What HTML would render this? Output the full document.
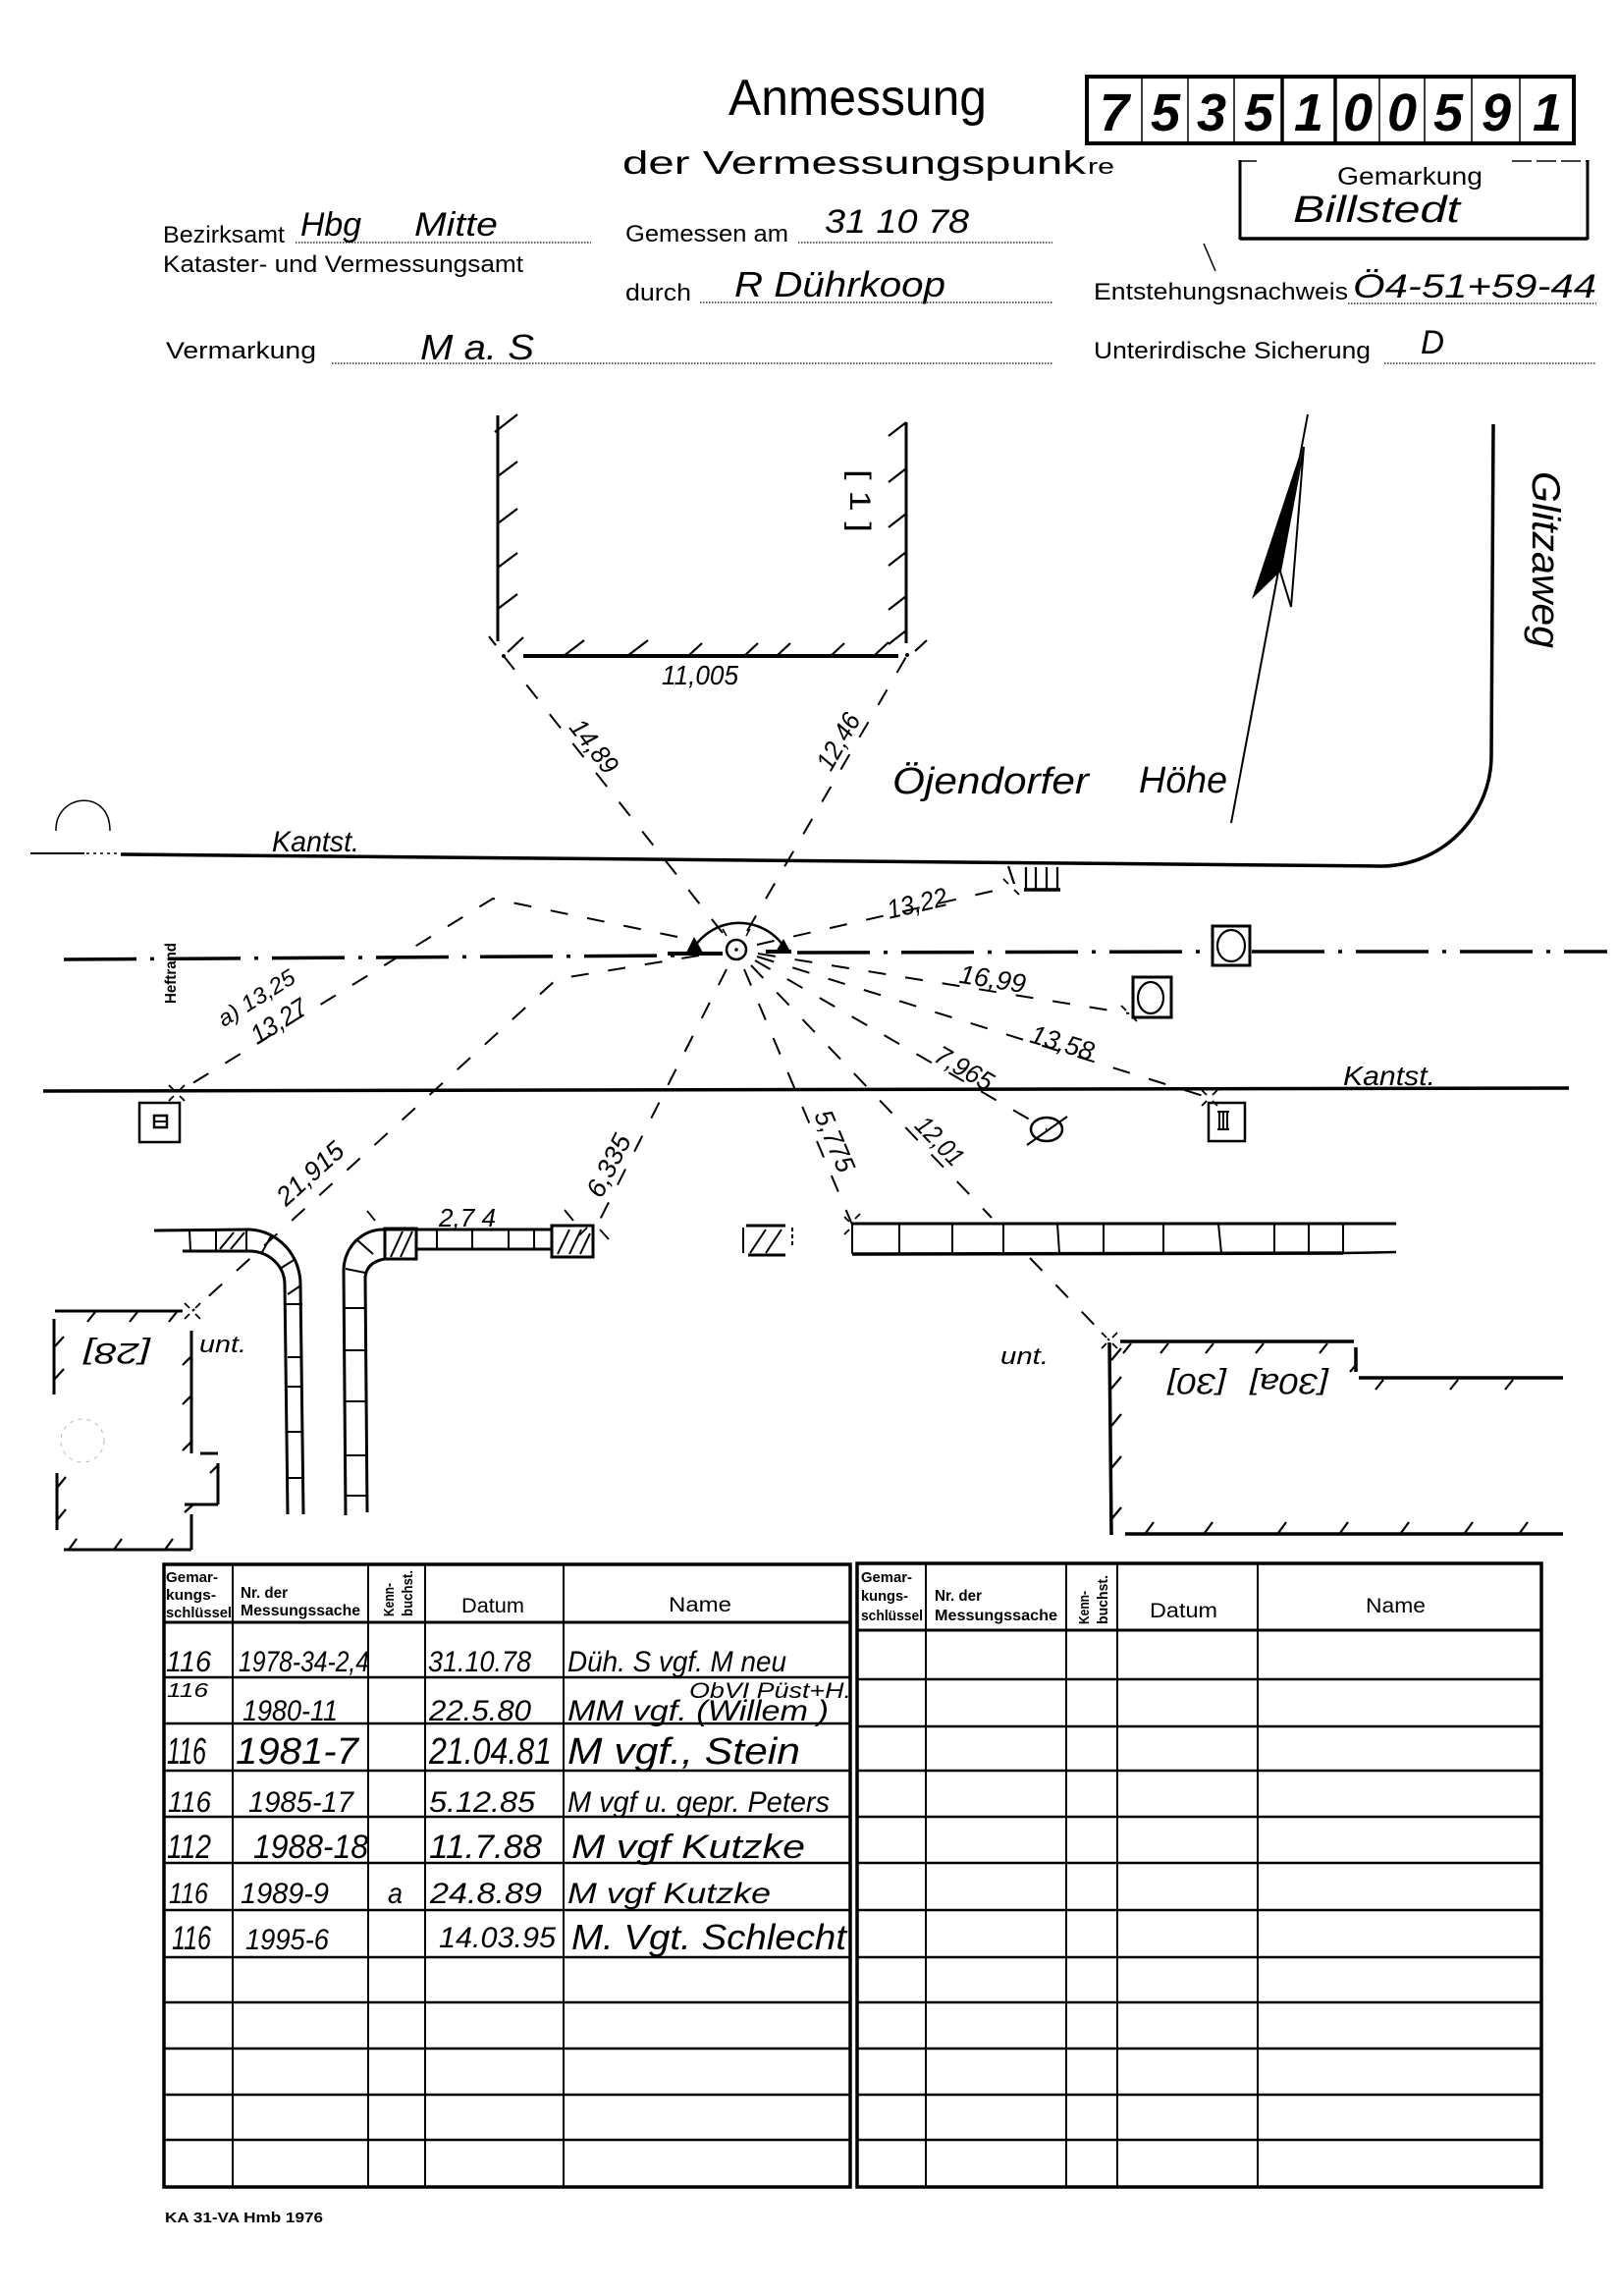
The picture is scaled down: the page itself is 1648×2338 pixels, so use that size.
<!DOCTYPE html>
<html><head><meta charset="utf-8"><style>
html,body{margin:0;padding:0;background:#fff;}
svg{display:block}
text{font-family:"Liberation Sans",sans-serif;fill:#000}
.i{font-style:italic}
.b{font-weight:bold}
.l{stroke:#000;fill:none}
.d{stroke:#000;stroke-width:2;stroke-dasharray:18 20;fill:none}
.dot{stroke:#000;stroke-width:1.3;stroke-dasharray:1.5 1.5;fill:none}
</style></head><body>
<svg width="1648" height="2338" viewBox="0 0 1648 2338" xmlns="http://www.w3.org/2000/svg">
<rect width="1648" height="2338" fill="#fff"/>

<!-- ===== HEADER ===== -->
<text x="742" y="117" font-size="52" textLength="263" lengthAdjust="spacingAndGlyphs">Anmessung</text>
<rect x="1107" y="78" width="496" height="68" class="l" stroke-width="4"/>
<g class="l" stroke-width="1.5">
<line x1="1163" y1="78" x2="1163" y2="146"/><line x1="1210" y1="78" x2="1210" y2="146"/>
<line x1="1257" y1="78" x2="1257" y2="146"/><line x1="1405" y1="78" x2="1405" y2="146"/>
<line x1="1451" y1="78" x2="1451" y2="146"/><line x1="1499" y1="78" x2="1499" y2="146"/>
<line x1="1548" y1="78" x2="1548" y2="146"/>
</g>
<line x1="1306" y1="78" x2="1306" y2="146" class="l" stroke-width="3.5"/>
<line x1="1360" y1="78" x2="1360" y2="146" class="l" stroke-width="3.5"/>
<g font-size="54" class="i b" text-anchor="middle">
<text x="1135" y="133">7</text><text x="1187" y="133">5</text><text x="1234" y="133">3</text>
<text x="1282" y="133">5</text><text x="1333" y="133">1</text><text x="1383" y="133">0</text>
<text x="1428" y="133">0</text><text x="1475" y="133">5</text><text x="1524" y="133">9</text>
<text x="1576" y="133">1</text>
</g>
<text x="634" y="177" font-size="33" textLength="472" lengthAdjust="spacingAndGlyphs">der Vermessungspunk</text>
<text x="1108" y="177" font-size="22" textLength="27" lengthAdjust="spacingAndGlyphs">re</text>

<line x1="1263" y1="164" x2="1280" y2="164" class="l" stroke-width="1.5"/>
<line x1="1540" y1="164" x2="1617" y2="164" class="l" stroke-width="1.5" stroke-dasharray="20 5"/>
<line x1="1263" y1="163" x2="1263" y2="244" class="l" stroke-width="3"/>
<line x1="1617" y1="163" x2="1617" y2="244" class="l" stroke-width="3"/>
<line x1="1263" y1="243" x2="1617" y2="243" class="l" stroke-width="3.5"/>
<text x="1362" y="188" font-size="25" textLength="148" lengthAdjust="spacingAndGlyphs">Gemarkung</text>
<text x="1317" y="226" font-size="38" class="i" textLength="170" lengthAdjust="spacingAndGlyphs">Billstedt</text>

<text x="166" y="247" font-size="24" textLength="124" lengthAdjust="spacingAndGlyphs">Bezirksamt</text>
<text x="306" y="240" font-size="34" class="i" textLength="62" lengthAdjust="spacingAndGlyphs">Hbg</text>
<text x="422" y="240" font-size="34" class="i" textLength="85" lengthAdjust="spacingAndGlyphs">Mitte</text>
<line x1="301" y1="247" x2="602" y2="247" class="dot"/>
<text x="166" y="277" font-size="24" textLength="367" lengthAdjust="spacingAndGlyphs">Kataster- und Vermessungsamt</text>

<text x="637" y="246" font-size="24" textLength="166" lengthAdjust="spacingAndGlyphs">Gemessen am</text>
<line x1="813" y1="247" x2="1072" y2="247" class="dot"/>
<text x="840" y="237" font-size="34" class="i" textLength="147" lengthAdjust="spacingAndGlyphs">31  10 78</text>

<text x="637" y="306" font-size="24" textLength="67" lengthAdjust="spacingAndGlyphs">durch</text>
<line x1="713" y1="308" x2="1072" y2="308" class="dot"/>
<text x="748" y="302" font-size="36" class="i" textLength="215" lengthAdjust="spacingAndGlyphs">R  Dührkoop</text>

<text x="1114" y="305" font-size="24" textLength="259" lengthAdjust="spacingAndGlyphs">Entstehungsnachweis</text>
<line x1="1373" y1="309" x2="1626" y2="309" class="dot"/>
<text x="1378" y="303" font-size="34" class="i" textLength="248" lengthAdjust="spacingAndGlyphs">Ö4-51+59-44</text>
<line x1="1226" y1="248" x2="1238" y2="276" class="l" stroke-width="1.5"/>

<text x="169" y="365" font-size="24" textLength="153" lengthAdjust="spacingAndGlyphs">Vermarkung</text>
<line x1="338" y1="370" x2="1072" y2="370" class="dot"/>
<text x="428" y="366" font-size="36" class="i" textLength="116" lengthAdjust="spacingAndGlyphs">M a. S</text>

<text x="1114" y="365" font-size="24" textLength="282" lengthAdjust="spacingAndGlyphs">Unterirdische Sicherung</text>
<line x1="1410" y1="370" x2="1626" y2="370" class="dot"/>
<text x="1447" y="360" font-size="34" class="i" textLength="24" lengthAdjust="spacingAndGlyphs">D</text>

<!-- ===== TOP BUILDING ===== -->
<g class="l" stroke-width="3">
<line x1="507" y1="423" x2="507" y2="653"/>
<line x1="923" y1="430" x2="923" y2="655"/>
</g>
<line x1="533" y1="668" x2="915" y2="668" class="l" stroke-width="4"/>
<g class="l" stroke-width="2.2">
<line x1="504" y1="440" x2="527" y2="422"/><line x1="507" y1="485" x2="527" y2="470"/>
<line x1="507" y1="533" x2="527" y2="518"/><line x1="507" y1="578" x2="527" y2="563"/>
<line x1="507" y1="620" x2="527" y2="605"/>
<line x1="923" y1="430" x2="905" y2="444"/><line x1="923" y1="477" x2="905" y2="491"/>
<line x1="923" y1="523" x2="905" y2="537"/><line x1="923" y1="562" x2="905" y2="576"/>
<line x1="923" y1="607" x2="905" y2="621"/><line x1="923" y1="642" x2="905" y2="656"/>
<line x1="574" y1="668" x2="595" y2="652"/><line x1="639" y1="668" x2="660" y2="652"/>
<line x1="701" y1="668" x2="715" y2="655"/><line x1="758" y1="668" x2="772" y2="655"/>
<line x1="791" y1="668" x2="805" y2="655"/><line x1="846" y1="668" x2="860" y2="655"/>
<line x1="890" y1="668" x2="905" y2="654"/>
<line x1="498" y1="648" x2="505" y2="657"/><line x1="517" y1="664" x2="533" y2="649"/>
<line x1="932" y1="663" x2="944" y2="652"/>
</g>
<circle cx="513" cy="668" r="2" fill="#000"/><circle cx="924" cy="667" r="2" fill="#000"/>
<text transform="translate(876,510) rotate(90)" text-anchor="middle" y="10" font-size="30" textLength="64" lengthAdjust="spacingAndGlyphs">[ 1 ]</text>
<text x="674" y="697" font-size="28" class="i" textLength="78" lengthAdjust="spacingAndGlyphs">11,005</text>

<!-- ===== NORTH ARROW ===== -->
<line x1="1254" y1="838" x2="1332" y2="422" class="l" stroke-width="2"/>
<polygon points="1327,453 1275,610 1304,582" fill="#000"/>
<polygon points="1328,455 1315,618 1304,582" fill="#fff" stroke="#000" stroke-width="2"/>

<!-- ===== ROADS ===== -->
<line x1="31" y1="869" x2="86" y2="869" class="l" stroke-width="2"/>
<line x1="88" y1="869" x2="121" y2="869" class="l" stroke-width="1.5" stroke-dasharray="3 4"/>
<path d="M123,870 L1405,882 A113 113 0 0 0 1519 770 L1521 432" class="l" stroke-width="3.5"/>
<text x="277" y="867" font-size="30" class="i" textLength="89" lengthAdjust="spacingAndGlyphs">Kantst.</text>
<path d="M57,846 C56,808 112,802 112,846" class="l" stroke-width="1.5"/>
<text x="909" y="808" font-size="38" class="i" textLength="200" lengthAdjust="spacingAndGlyphs">Öjendorfer</text>
<text x="1160" y="807" font-size="38" class="i" textLength="90" lengthAdjust="spacingAndGlyphs">Höhe</text>
<text transform="translate(1575,570) rotate(90)" text-anchor="middle" y="14" font-size="40" class="i" textLength="180" lengthAdjust="spacingAndGlyphs">Glitzaweg</text>

<line x1="44" y1="1111" x2="1598" y2="1108" class="l" stroke-width="3.5"/>
<text x="1368" y="1105" font-size="28" class="i" textLength="94" lengthAdjust="spacingAndGlyphs">Kantst.</text>

<!-- axis dash-dot -->
<g class="l" stroke-width="3.5" stroke-dasharray="74 14 4 14">
<line x1="65" y1="977" x2="690" y2="973"/>
<line x1="812" y1="970" x2="1233" y2="969"/>
<line x1="1275" y1="969" x2="1637" y2="969"/>
</g>
<text transform="translate(173,991) rotate(-90)" text-anchor="middle" y="6" font-size="16" class="b" textLength="62" lengthAdjust="spacingAndGlyphs">Heftrand</text>

<!-- gate symbol -->
<g class="l" stroke-width="2.2">
<line x1="1027" y1="882" x2="1033" y2="900"/>
<line x1="1045" y1="883" x2="1045" y2="906"/><line x1="1055" y1="883" x2="1055" y2="906"/>
<line x1="1066" y1="883" x2="1066" y2="906"/><line x1="1077" y1="883" x2="1077" y2="906"/>
</g>
<line x1="1043" y1="906" x2="1080" y2="906" class="l" stroke-width="3.5"/>

<!-- center point -->
<circle cx="750" cy="967" r="10" class="l" stroke-width="2.5"/>
<circle cx="750" cy="967" r="1.8" fill="#000"/>
<path d="M703,972 A55 55 0 0 1 801 968" class="l" stroke-width="2.5"/>
<g class="l" stroke-width="1.5">
<line x1="736" y1="946" x2="740" y2="953"/><line x1="764" y1="946" x2="760" y2="953"/>
</g>
<line x1="680" y1="971" x2="736" y2="971" class="l" stroke-width="4"/>
<polygon points="699,970 707,954 716,970" fill="#000"/>
<line x1="780" y1="969" x2="806" y2="969" class="l" stroke-width="4"/>
<polygon points="790,969 798,956 805,969" fill="#000"/>

<!-- boxed circles -->
<rect x="1235" y="943" width="38" height="40" class="l" stroke-width="3"/>
<ellipse cx="1254" cy="963" rx="14" ry="16" class="l" stroke-width="2.2"/>
<rect x="1154" y="995" width="39" height="41" class="l" stroke-width="3"/>
<ellipse cx="1172" cy="1016" rx="13" ry="16" class="l" stroke-width="2.2"/>

<!-- small boxes on lower Kantst -->
<rect x="142" y="1123" width="41" height="40" class="l" stroke-width="2.5"/>
<rect x="157" y="1136" width="13" height="12" class="l" stroke-width="2.5"/>
<line x1="157" y1="1142" x2="170" y2="1142" class="l" stroke-width="2"/>
<rect x="1231" y="1123" width="37" height="39" class="l" stroke-width="2.5"/>
<g class="l" stroke-width="2"><line x1="1240" y1="1132" x2="1252" y2="1132"/><line x1="1242" y1="1132" x2="1242" y2="1150"/><line x1="1246" y1="1132" x2="1246" y2="1150"/><line x1="1250" y1="1132" x2="1250" y2="1150"/><line x1="1240" y1="1150" x2="1252" y2="1150"/></g>

<!-- diameter symbol -->
<ellipse cx="1066" cy="1150" rx="16" ry="12" class="l" stroke-width="2.5"/>
<line x1="1046" y1="1166" x2="1087" y2="1137" class="l" stroke-width="2"/>

<!-- ===== DASHED MEASURE LINES ===== -->
<g class="d">
<line x1="736" y1="950" x2="513" y2="668"/>
<line x1="761" y1="948" x2="924" y2="667"/>
<polyline points="690,954 502,915 180,1113"/>
<polyline points="712,973 567,997 196,1335"/>
<line x1="740" y1="987" x2="607" y2="1250"/>
<line x1="771" y1="962" x2="1030" y2="903"/>
<line x1="772" y1="971" x2="1150" y2="1032"/>
<line x1="771" y1="974" x2="1232" y2="1118"/>
<line x1="769" y1="978" x2="1066" y2="1150"/>
<line x1="765" y1="983" x2="1010" y2="1240"/>
<line x1="1049" y1="1281" x2="1130" y2="1365"/>
<line x1="758" y1="987" x2="868" y2="1247"/>
</g>

<!-- measure labels -->
<g font-size="27" class="i" text-anchor="middle">
<text transform="translate(605,760) rotate(52)" y="9" textLength="62" lengthAdjust="spacingAndGlyphs">14,89</text>
<text transform="translate(854,755) rotate(-60)" y="9" textLength="62" lengthAdjust="spacingAndGlyphs">12,46</text>
<text transform="translate(261,1016) rotate(-32)" y="8" font-size="23" textLength="88" lengthAdjust="spacingAndGlyphs">a) 13,25</text>
<text transform="translate(284,1040) rotate(-32)" y="9" textLength="62" lengthAdjust="spacingAndGlyphs">13,27</text>
<text transform="translate(316,1195) rotate(-42)" y="9" textLength="82" lengthAdjust="spacingAndGlyphs">21,915</text>
<text transform="translate(620,1187) rotate(-63)" y="9" textLength="68" lengthAdjust="spacingAndGlyphs">6,335</text>
<text transform="translate(934,920) rotate(-13)" y="9" textLength="62" lengthAdjust="spacingAndGlyphs">13,22</text>
<text transform="translate(1011,997) rotate(9)" y="9" textLength="68" lengthAdjust="spacingAndGlyphs">16,99</text>
<text transform="translate(1082,1062) rotate(17)" y="9" textLength="66" lengthAdjust="spacingAndGlyphs">13,58</text>
<text transform="translate(982,1088) rotate(30)" y="9" textLength="64" lengthAdjust="spacingAndGlyphs">7,965</text>
<text transform="translate(957,1162) rotate(46)" y="9" textLength="58" lengthAdjust="spacingAndGlyphs">12,01</text>
<text transform="translate(850,1162) rotate(67)" y="9" textLength="66" lengthAdjust="spacingAndGlyphs">5,775</text>
</g>

<!-- X markers -->
<g class="l" stroke-width="1.8">
<path d="M172,1105 L177,1110 M183,1116 L188,1121 M188,1105 L183,1110 M177,1116 L172,1121"/>
<path d="M188,1327 L193,1332 M199,1338 L204,1343 M204,1327 L199,1332 M193,1338 L188,1343"/>
<path d="M374,1233 L382,1243 M598,1250 L590,1258 M611,1252 L620,1262 M575,1232 L584,1243"/>
<path d="M860,1239 L865,1244 M876,1236 L871,1241 M865,1252 L860,1257"/>
<path d="M1122,1357 L1127,1362 M1133,1368 L1138,1373 M1138,1357 L1133,1362 M1127,1368 L1122,1373"/>
<path d="M1224,1110 L1229,1115 M1235,1121 L1240,1126 M1240,1110 L1235,1115 M1229,1121 L1224,1126"/>
<path d="M1022,895 L1027,900 M1033,906 L1038,911"/>
<path d="M1142,1024 L1147,1029 M1153,1035 L1158,1040"/>
</g>

<!-- ===== FENCE (right) ===== -->
<line x1="868" y1="1246" x2="1422" y2="1246" class="l" stroke-width="3"/>
<line x1="868" y1="1277" x2="1368" y2="1276" class="l" stroke-width="3.5"/>
<line x1="1368" y1="1276" x2="1422" y2="1275" class="l" stroke-width="2.5"/>
<g class="l" stroke-width="2">
<line x1="868" y1="1246" x2="868" y2="1277"/><line x1="916" y1="1246" x2="916" y2="1277"/>
<line x1="970" y1="1246" x2="970" y2="1277"/><line x1="1022" y1="1246" x2="1022" y2="1277"/>
<line x1="1077" y1="1246" x2="1079" y2="1276"/><line x1="1124" y1="1246" x2="1124" y2="1276"/>
<line x1="1185" y1="1246" x2="1185" y2="1276"/><line x1="1241" y1="1246" x2="1244" y2="1276"/>
<line x1="1298" y1="1246" x2="1298" y2="1276"/><line x1="1333" y1="1246" x2="1333" y2="1276"/>
<line x1="1368" y1="1246" x2="1368" y2="1276"/>
</g>
<!-- hatched small box -->
<g class="l" stroke-width="3"><line x1="760" y1="1248" x2="800" y2="1248"/><line x1="762" y1="1278" x2="800" y2="1278"/></g>
<g class="l" stroke-width="2"><line x1="757" y1="1250" x2="757" y2="1276"/><line x1="764" y1="1276" x2="780" y2="1252"/><line x1="780" y1="1276" x2="796" y2="1252"/><line x1="807" y1="1250" x2="807" y2="1270" stroke-dasharray="4 3"/></g>

<!-- ===== LEFT CURB ===== -->
<g class="l" stroke-width="3">
<line x1="157" y1="1253" x2="254" y2="1252"/>
<line x1="186" y1="1274" x2="254" y2="1274"/>
<path d="M254,1252 A54 56 0 0 1 306 1308 L309 1542"/>
<path d="M254,1274 A36 34 0 0 1 290 1308 L293 1542"/>
</g>
<g class="l" stroke-width="2">
<line x1="193" y1="1253" x2="194" y2="1274"/><line x1="220" y1="1253" x2="220" y2="1274"/>
<line x1="251" y1="1252" x2="251" y2="1274"/>
<line x1="224" y1="1272" x2="238" y2="1255"/><line x1="235" y1="1272" x2="249" y2="1255"/>
<line x1="267" y1="1275" x2="277" y2="1257"/><line x1="285" y1="1292" x2="301" y2="1282"/>
<line x1="291" y1="1328" x2="308" y2="1328"/><line x1="293" y1="1318" x2="305" y2="1310"/>
<line x1="293" y1="1382" x2="308" y2="1382"/><line x1="293" y1="1412" x2="308" y2="1412"/>
<line x1="293" y1="1458" x2="309" y2="1458"/><line x1="293" y1="1505" x2="309" y2="1505"/>
</g>

<!-- ===== RIGHT CURB ===== -->
<g class="l" stroke-width="3">
<line x1="390" y1="1252" x2="562" y2="1252"/>
<line x1="424" y1="1272" x2="562" y2="1272"/>
<path d="M390,1252 A40 42 0 0 0 350 1294 L352 1543"/>
<path d="M392,1282 Q374,1285 372,1300 L374 1540"/>
<rect x="392" y="1251" width="32" height="31"/>
<rect x="562" y="1248" width="42" height="32"/>
</g>
<g class="l" stroke-width="2">
<line x1="445" y1="1252" x2="445" y2="1272"/><line x1="481" y1="1252" x2="481" y2="1272"/>
<line x1="518" y1="1252" x2="518" y2="1272"/><line x1="544" y1="1252" x2="544" y2="1272"/>
<line x1="398" y1="1280" x2="410" y2="1254"/><line x1="408" y1="1280" x2="420" y2="1254"/>
<line x1="568" y1="1277" x2="580" y2="1252"/><line x1="580" y1="1277" x2="592" y2="1252"/><line x1="591" y1="1277" x2="601" y2="1256"/>
<line x1="363" y1="1262" x2="380" y2="1277"/><line x1="352" y1="1292" x2="372" y2="1296"/>
<line x1="351" y1="1332" x2="373" y2="1332"/><line x1="351" y1="1375" x2="373" y2="1375"/>
<line x1="351" y1="1427" x2="373" y2="1427"/><line x1="351" y1="1482" x2="374" y2="1482"/>
<line x1="352" y1="1523" x2="374" y2="1523"/>
</g>
<text x="447" y="1249" font-size="26" class="i" textLength="58" lengthAdjust="spacingAndGlyphs">2,7 4</text>

<!-- ===== LEFT BUILDING ===== -->
<g class="l" stroke-width="3">
<line x1="56" y1="1335" x2="186" y2="1335"/>
<line x1="55" y1="1343" x2="55" y2="1420"/>
<line x1="195" y1="1355" x2="195" y2="1480"/>
<line x1="204" y1="1480" x2="222" y2="1480"/>
<line x1="222" y1="1490" x2="222" y2="1532"/>
<line x1="188" y1="1532" x2="222" y2="1532"/>
<line x1="195" y1="1542" x2="195" y2="1578"/>
<line x1="65" y1="1578" x2="195" y2="1578"/>
<line x1="58" y1="1500" x2="58" y2="1558"/>
</g>
<g class="l" stroke-width="2.2">
<line x1="97" y1="1336" x2="89" y2="1346"/><line x1="140" y1="1336" x2="132" y2="1346"/><line x1="180" y1="1336" x2="172" y2="1346"/>
<line x1="55" y1="1372" x2="65" y2="1361"/><line x1="55" y1="1405" x2="65" y2="1394"/>
<line x1="58" y1="1515" x2="67" y2="1504"/><line x1="58" y1="1548" x2="67" y2="1537"/>
<line x1="195" y1="1381" x2="186" y2="1390"/><line x1="195" y1="1421" x2="186" y2="1430"/><line x1="195" y1="1468" x2="186" y2="1477"/>
<line x1="222" y1="1492" x2="214" y2="1500"/><line x1="197" y1="1532" x2="188" y2="1540"/>
<line x1="70" y1="1578" x2="78" y2="1567"/><line x1="116" y1="1578" x2="124" y2="1567"/><line x1="168" y1="1578" x2="176" y2="1567"/>
</g>
<text transform="translate(119,1379) rotate(180)" text-anchor="middle" y="11" font-size="30" class="i" textLength="68" lengthAdjust="spacingAndGlyphs">[28]</text>
<text x="203" y="1377" font-size="24" class="i" textLength="48" lengthAdjust="spacingAndGlyphs">unt.</text>
<circle cx="84" cy="1467" r="22" fill="none" stroke="#bbb" stroke-width="1" stroke-dasharray="4 5"/>

<!-- ===== RIGHT BUILDING ===== -->
<g class="l" stroke-width="3.5">
<line x1="1141" y1="1366" x2="1379" y2="1366"/>
<line x1="1381" y1="1372" x2="1381" y2="1397"/>
<line x1="1384" y1="1403" x2="1592" y2="1403"/>
<line x1="1130" y1="1367" x2="1132" y2="1563"/>
<line x1="1146" y1="1562" x2="1592" y2="1562"/>
</g>
<g class="l" stroke-width="2.2">
<line x1="1152" y1="1368" x2="1144" y2="1378"/><line x1="1190" y1="1368" x2="1182" y2="1378"/>
<line x1="1236" y1="1368" x2="1228" y2="1378"/><line x1="1287" y1="1368" x2="1279" y2="1378"/>
<line x1="1352" y1="1368" x2="1344" y2="1378"/>
<line x1="1381" y1="1390" x2="1375" y2="1397"/>
<line x1="1409" y1="1405" x2="1401" y2="1415"/><line x1="1485" y1="1405" x2="1477" y2="1415"/><line x1="1541" y1="1405" x2="1533" y2="1415"/>
<line x1="1132" y1="1385" x2="1142" y2="1373"/><line x1="1132" y1="1414" x2="1142" y2="1402"/>
<line x1="1132" y1="1452" x2="1142" y2="1440"/><line x1="1132" y1="1495" x2="1142" y2="1483"/>
<line x1="1132" y1="1547" x2="1142" y2="1535"/>
<line x1="1167" y1="1561" x2="1175" y2="1550"/><line x1="1227" y1="1561" x2="1235" y2="1550"/>
<line x1="1302" y1="1561" x2="1310" y2="1550"/><line x1="1365" y1="1561" x2="1373" y2="1550"/>
<line x1="1427" y1="1561" x2="1435" y2="1550"/><line x1="1492" y1="1561" x2="1500" y2="1550"/>
<line x1="1548" y1="1561" x2="1556" y2="1550"/>
</g>
<text transform="translate(1219,1410) rotate(180)" text-anchor="middle" y="11" font-size="30" class="i" textLength="60" lengthAdjust="spacingAndGlyphs">[30]</text>
<text transform="translate(1313,1410) rotate(180)" text-anchor="middle" y="11" font-size="30" class="i" textLength="80" lengthAdjust="spacingAndGlyphs">[30a]</text>
<text x="1019" y="1389" font-size="24" class="i" textLength="49" lengthAdjust="spacingAndGlyphs">unt.</text>

<!-- ===== LEFT TABLE ===== -->
<rect x="167" y="1593" width="699" height="634" class="l" stroke-width="3.5"/>
<g class="l" stroke-width="2.5">
<line x1="167" y1="1652" x2="866" y2="1652" stroke-width="3"/>
<line x1="167" y1="1708" x2="866" y2="1708"/><line x1="167" y1="1755" x2="866" y2="1755"/>
<line x1="167" y1="1803" x2="866" y2="1803"/><line x1="167" y1="1850" x2="866" y2="1850"/>
<line x1="167" y1="1897" x2="866" y2="1897"/><line x1="167" y1="1945" x2="866" y2="1945"/>
<line x1="167" y1="1993" x2="866" y2="1993"/><line x1="167" y1="2039" x2="866" y2="2039"/>
<line x1="167" y1="2086" x2="866" y2="2086"/><line x1="167" y1="2133" x2="866" y2="2133"/>
<line x1="167" y1="2179" x2="866" y2="2179"/>
</g>
<g class="l" stroke-width="2">
<line x1="237" y1="1593" x2="237" y2="2227"/><line x1="375" y1="1593" x2="375" y2="2227"/>
<line x1="433" y1="1593" x2="433" y2="2227"/><line x1="574" y1="1593" x2="574" y2="2227"/>
</g>
<g class="b">
<text x="169" y="1611" font-size="15" textLength="53" lengthAdjust="spacingAndGlyphs">Gemar-</text>
<text x="169" y="1629" font-size="15" textLength="51" lengthAdjust="spacingAndGlyphs">kungs-</text>
<text x="169" y="1647" font-size="15" textLength="67" lengthAdjust="spacingAndGlyphs">schlüssel</text>
<text x="245" y="1627" font-size="16" textLength="48" lengthAdjust="spacingAndGlyphs">Nr. der</text>
<text x="245" y="1645" font-size="16" textLength="122" lengthAdjust="spacingAndGlyphs">Messungssache</text>
<text transform="translate(401,1646) rotate(-90)" font-size="15" textLength="34" lengthAdjust="spacingAndGlyphs">Kenn-</text>
<text transform="translate(420,1646) rotate(-90)" font-size="15" textLength="47" lengthAdjust="spacingAndGlyphs">buchst.</text>
</g>
<text x="470" y="1642" font-size="21" textLength="64" lengthAdjust="spacingAndGlyphs">Datum</text>
<text x="681" y="1641" font-size="21" textLength="64" lengthAdjust="spacingAndGlyphs">Name</text>

<g class="i">
<text x="169" y="1702" font-size="30" textLength="46" lengthAdjust="spacingAndGlyphs">116</text>
<text x="243" y="1702" font-size="30" textLength="133" lengthAdjust="spacingAndGlyphs">1978-34-2,4</text>
<text x="436" y="1702" font-size="30" textLength="105" lengthAdjust="spacingAndGlyphs">31.10.78</text>
<text x="578" y="1702" font-size="30" textLength="223" lengthAdjust="spacingAndGlyphs">Düh. S vgf. M neu</text>

<text x="170" y="1728" font-size="20" textLength="42" lengthAdjust="spacingAndGlyphs">116</text>
<text x="247" y="1752" font-size="30" textLength="97" lengthAdjust="spacingAndGlyphs">1980-11</text>
<text x="437" y="1752" font-size="30" textLength="104" lengthAdjust="spacingAndGlyphs">22.5.80</text>
<text x="578" y="1752" font-size="30" textLength="266" lengthAdjust="spacingAndGlyphs">MM vgf. (Willem   )</text>
<text x="702" y="1729" font-size="22" textLength="165" lengthAdjust="spacingAndGlyphs">ObVI Püst+H.</text>

<text x="170" y="1796" font-size="38" textLength="40" lengthAdjust="spacingAndGlyphs">116</text>
<text x="240" y="1796" font-size="38" textLength="125" lengthAdjust="spacingAndGlyphs">1981-7</text>
<text x="437" y="1796" font-size="38" textLength="125" lengthAdjust="spacingAndGlyphs">21.04.81</text>
<text x="578" y="1796" font-size="38" textLength="237" lengthAdjust="spacingAndGlyphs">M vgf., Stein</text>

<text x="171" y="1845" font-size="30" textLength="44" lengthAdjust="spacingAndGlyphs">116</text>
<text x="253" y="1845" font-size="30" textLength="107" lengthAdjust="spacingAndGlyphs">1985-17</text>
<text x="437" y="1845" font-size="30" textLength="108" lengthAdjust="spacingAndGlyphs">5.12.85</text>
<text x="578" y="1845" font-size="30" textLength="267" lengthAdjust="spacingAndGlyphs">M vgf u. gepr. Peters</text>

<text x="170" y="1892" font-size="34" textLength="45" lengthAdjust="spacingAndGlyphs">112</text>
<text x="258" y="1892" font-size="34" textLength="117" lengthAdjust="spacingAndGlyphs">1988-18</text>
<text x="437" y="1892" font-size="34" textLength="115" lengthAdjust="spacingAndGlyphs">11.7.88</text>
<text x="582" y="1892" font-size="34" textLength="238" lengthAdjust="spacingAndGlyphs">M vgf Kutzke</text>

<text x="172" y="1938" font-size="30" textLength="40" lengthAdjust="spacingAndGlyphs">116</text>
<text x="245" y="1938" font-size="30" textLength="90" lengthAdjust="spacingAndGlyphs">1989-9</text>
<text x="395" y="1938" font-size="30" textLength="15" lengthAdjust="spacingAndGlyphs">a</text>
<text x="438" y="1938" font-size="30" textLength="114" lengthAdjust="spacingAndGlyphs">24.8.89</text>
<text x="578" y="1938" font-size="30" textLength="207" lengthAdjust="spacingAndGlyphs">M vgf Kutzke</text>

<text x="175" y="1985" font-size="34" textLength="40" lengthAdjust="spacingAndGlyphs">116</text>
<text x="250" y="1985" font-size="30" textLength="85" lengthAdjust="spacingAndGlyphs">1995-6</text>
<text x="447" y="1983" font-size="30" textLength="119" lengthAdjust="spacingAndGlyphs">14.03.95</text>
<text x="582" y="1985" font-size="36" textLength="280" lengthAdjust="spacingAndGlyphs">M. Vgt. Schlecht</text>
</g>

<!-- ===== RIGHT TABLE ===== -->
<rect x="873" y="1592" width="697" height="635" class="l" stroke-width="3.5"/>
<g class="l" stroke-width="2.5">
<line x1="873" y1="1660" x2="1570" y2="1660" stroke-width="3"/>
<line x1="873" y1="1710" x2="1570" y2="1710"/><line x1="873" y1="1758" x2="1570" y2="1758"/>
<line x1="873" y1="1803" x2="1570" y2="1803"/><line x1="873" y1="1850" x2="1570" y2="1850"/>
<line x1="873" y1="1897" x2="1570" y2="1897"/><line x1="873" y1="1945" x2="1570" y2="1945"/>
<line x1="873" y1="1993" x2="1570" y2="1993"/><line x1="873" y1="2039" x2="1570" y2="2039"/>
<line x1="873" y1="2086" x2="1570" y2="2086"/><line x1="873" y1="2133" x2="1570" y2="2133"/>
<line x1="873" y1="2179" x2="1570" y2="2179"/>
</g>
<g class="l" stroke-width="2">
<line x1="943" y1="1592" x2="943" y2="2227"/><line x1="1086" y1="1592" x2="1086" y2="2227"/>
<line x1="1138" y1="1592" x2="1138" y2="2227"/><line x1="1281" y1="1592" x2="1281" y2="2227"/>
</g>
<g class="b">
<text x="877" y="1611" font-size="15" textLength="52" lengthAdjust="spacingAndGlyphs">Gemar-</text>
<text x="877" y="1630" font-size="15" textLength="48" lengthAdjust="spacingAndGlyphs">kungs-</text>
<text x="877" y="1650" font-size="15" textLength="63" lengthAdjust="spacingAndGlyphs">schlüssel</text>
<text x="952" y="1630" font-size="16" textLength="48" lengthAdjust="spacingAndGlyphs">Nr. der</text>
<text x="952" y="1650" font-size="16" textLength="125" lengthAdjust="spacingAndGlyphs">Messungssache</text>
<text transform="translate(1109,1654) rotate(-90)" font-size="15" textLength="34" lengthAdjust="spacingAndGlyphs">Kenn-</text>
<text transform="translate(1128,1654) rotate(-90)" font-size="15" textLength="50" lengthAdjust="spacingAndGlyphs">buchst.</text>
</g>
<text x="1171" y="1647" font-size="21" textLength="69" lengthAdjust="spacingAndGlyphs">Datum</text>
<text x="1391" y="1642" font-size="21" textLength="61" lengthAdjust="spacingAndGlyphs">Name</text>

<text x="168" y="2263" font-size="15" class="b" textLength="161" lengthAdjust="spacingAndGlyphs">KA 31-VA Hmb 1976</text>
</svg>
</body></html>
